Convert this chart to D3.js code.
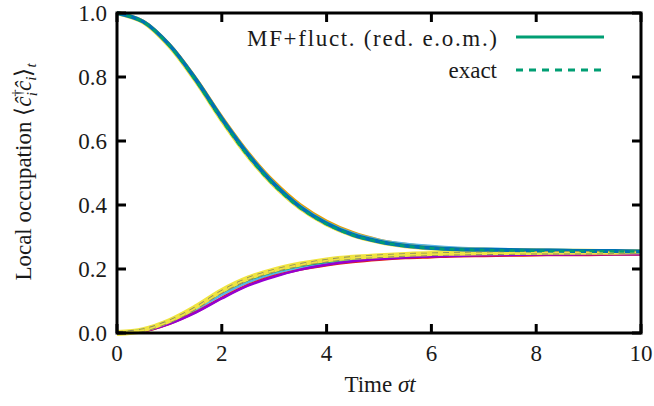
<!DOCTYPE html>
<html>
<head>
<meta charset="utf-8">
<script src="https://cdn.jsdelivr.net/npm/d3@7"></script>
<style>
  body { margin: 0; background: #fff; }
  text { font-family: "Liberation Serif", "Times New Roman", serif; fill: #1a1a1a; }
</style>
</head>
<body>
<div id="chart"></div>
<script>
// time grid (sigma t)
var times = [0,0.5,1,1.5,2,2.5,3,3.5,4,4.5,5,5.5,6,6.5,7,7.5,8,8.5,9,9.5,10];

// initially occupied sites (MF+fluct.)
var decayBlue   = [1.000,0.973,0.900,0.793,0.670,0.558,0.465,0.393,0.342,0.307,0.286,0.273,0.266,0.262,0.260,0.259,0.258,0.257,0.256,0.256,0.255];
var decayOrange = [1.000,0.974,0.902,0.797,0.676,0.565,0.473,0.401,0.350,0.314,0.291,0.277,0.269,0.264,0.262,0.260,0.259,0.258,0.257,0.257,0.256];
var decaySky    = [1.000,0.973,0.900,0.794,0.672,0.561,0.468,0.396,0.345,0.311,0.290,0.278,0.271,0.266,0.263,0.261,0.260,0.259,0.258,0.258,0.257];
// exact
var decayExact  = [1.000,0.972,0.897,0.789,0.665,0.553,0.461,0.390,0.340,0.306,0.285,0.272,0.265,0.261,0.259,0.258,0.257,0.256,0.256,0.255,0.255];

// initially empty sites (MF+fluct.)
var riseYellow = [0,0.009,0.037,0.080,0.131,0.170,0.196,0.214,0.227,0.235,0.240,0.244,0.247,0.248,0.249,0.250,0.250,0.251,0.251,0.251,0.252];
var riseOrange = [0,0.008,0.035,0.075,0.123,0.162,0.189,0.209,0.223,0.232,0.238,0.242,0.245,0.247,0.248,0.249,0.250,0.250,0.251,0.251,0.251];
var riseGreen  = [0,0.010,0.038,0.079,0.128,0.166,0.192,0.210,0.223,0.232,0.237,0.241,0.244,0.246,0.247,0.248,0.249,0.249,0.250,0.250,0.250];
var riseSky    = [0,0.008,0.034,0.073,0.119,0.158,0.185,0.205,0.219,0.228,0.235,0.239,0.242,0.244,0.245,0.246,0.247,0.247,0.248,0.248,0.248];
var risePurple = [0,0.006,0.029,0.064,0.108,0.148,0.176,0.198,0.213,0.224,0.231,0.236,0.239,0.241,0.243,0.244,0.245,0.245,0.246,0.246,0.246];
var riseRed    = [0,0.006,0.029,0.065,0.110,0.150,0.178,0.198,0.212,0.222,0.229,0.234,0.237,0.240,0.241,0.242,0.243,0.244,0.244,0.245,0.245];
// exact
var riseExact  = [0,0.009,0.036,0.078,0.129,0.169,0.195,0.213,0.226,0.235,0.240,0.244,0.246,0.248,0.249,0.250,0.251,0.251,0.251,0.252,0.252];

var xTicks = [0,2,4,6,8,10];
var yTicks = [0,0.2,0.4,0.6,0.8,1.0];
var legendLabels = ["MF+fluct. (red. e.o.m.)", "exact"];

var width = 654, height = 406;
var margin = {top: 13, right: 13, bottom: 73, left: 117};

var svg = d3.select("#chart")
    .append("svg")
    .attr("width", width)
    .attr("height", height);

var x_scale = d3.scaleLinear()
    .domain([0, 10])
    .range([margin.left, width - margin.right]);

var y_scale = d3.scaleLinear()
    .domain([0, 1])
    .range([height - margin.bottom, margin.top]);

var line = d3.line()
    .x(function(d, i) { return x_scale(times[i]); })
    .y(function(d) { return y_scale(d); })
    .curve(d3.curveCatmullRom.alpha(0.5));

var plot = svg.append("g");

function drawLine(values, colour, w, dash) {
  var p = plot.append("path")
    .datum(values)
    .attr("fill", "none")
    .attr("stroke", colour)
    .attr("stroke-width", w)
    .attr("d", line);
  if (dash) p.attr("stroke-dasharray", dash);
}

// solid lines
drawLine(riseYellow, "#f0e442", 6);
drawLine(riseOrange, "#e69f00", 3);
drawLine(riseSky, "#56b4e9", 2.5);
drawLine(riseGreen, "#009e73", 2.5);
drawLine(riseRed, "#e51e10", 2.5);
drawLine(risePurple, "#9400d3", 2.5);
drawLine(riseYellow, "#f0e442", 4);

drawLine(decayOrange, "#e69f00", 3);
drawLine(decaySky, "#56b4e9", 3);
drawLine(decayExact, "#f0e442", 4.5);
drawLine(decayBlue, "#0072b2", 4);

// exact (dashed)
drawLine(riseExact, "#8a8a60", 3.5, "6,5");
drawLine(riseExact, "#f0e442", 1.8, "6,5");
drawLine(decayExact, "#009e73", 2.5, "5,5");

// frame
var x0 = margin.left, x1 = width - margin.right;
var y0 = height - margin.bottom, y1 = margin.top;

var ticks = svg.append("g").attr("stroke", "#000").attr("stroke-width", 3);
xTicks.forEach(function(t) {
  ticks.append("line").attr("x1", x_scale(t)).attr("x2", x_scale(t)).attr("y1", y0).attr("y2", y0 - 9);
  ticks.append("line").attr("x1", x_scale(t)).attr("x2", x_scale(t)).attr("y1", y1).attr("y2", y1 + 9);
});
yTicks.forEach(function(t) {
  ticks.append("line").attr("x1", x0).attr("x2", x0 + 9).attr("y1", y_scale(t)).attr("y2", y_scale(t));
  ticks.append("line").attr("x1", x1).attr("x2", x1 - 9).attr("y1", y_scale(t)).attr("y2", y_scale(t));
});

svg.append("rect")
  .attr("x", x0).attr("y", y1)
  .attr("width", x1 - x0).attr("height", y0 - y1)
  .attr("fill", "none").attr("stroke", "#000").attr("stroke-width", 3);

// tick labels
svg.selectAll(".xlab").data(xTicks).enter().append("text")
  .attr("x", function(d) { return x_scale(d); })
  .attr("y", 361)
  .attr("text-anchor", "middle")
  .style("font-size", "23px")
  .text(function(d) { return d; });

svg.selectAll(".ylab").data(yTicks).enter().append("text")
  .attr("x", x0 - 10)
  .attr("y", function(d) { return y_scale(d) + 8; })
  .attr("text-anchor", "end")
  .style("font-size", "23px")
  .text(function(d) { return d.toFixed(1); });

// axis titles
var xt = svg.append("text")
  .attr("x", 380)
  .attr("y", 392)
  .attr("text-anchor", "middle")
  .style("font-size", "23px");
xt.append("tspan").text("Time ");
xt.append("tspan").style("font-style", "italic").text("σt");

var yt = svg.append("text")
  .attr("transform", "translate(31,172) rotate(-90)")
  .attr("text-anchor", "middle")
  .style("font-size", "23px");
yt.append("tspan").text("Local occupation ⟨");
yt.append("tspan").style("font-style", "italic").text("ĉ");
yt.append("tspan").attr("dy", -9).style("font-size", "15px").text("†");
yt.append("tspan").attr("dx", -7).attr("dy", 15).style("font-size", "15px").style("font-style", "italic").text("i");
yt.append("tspan").attr("dx", 1).attr("dy", -6).style("font-style", "italic").text("ĉ");
yt.append("tspan").attr("dy", 5).style("font-size", "15px").style("font-style", "italic").text("i");
yt.append("tspan").attr("dy", -5).text("⟩");
yt.append("tspan").attr("dy", 5).style("font-size", "15px").style("font-style", "italic").text("t");

// legend
var legend = svg.append("g");
legend.append("text")
  .attr("x", 497).attr("y", 46)
  .attr("text-anchor", "end")
  .attr("textLength", 250)
  .attr("lengthAdjust", "spacing")
  .style("font-size", "23px")
  .text(legendLabels[0]);
legend.append("line")
  .attr("x1", 516).attr("x2", 604).attr("y1", 37).attr("y2", 37)
  .attr("stroke", "#009e73").attr("stroke-width", 3);
legend.append("text")
  .attr("x", 497).attr("y", 78)
  .attr("text-anchor", "end")
  .style("font-size", "23px")
  .text(legendLabels[1]);
legend.append("line")
  .attr("x1", 516).attr("x2", 604).attr("y1", 70).attr("y2", 70)
  .attr("stroke", "#009e73").attr("stroke-width", 3)
  .attr("stroke-dasharray", "7,6");
</script>
</body>
</html>
